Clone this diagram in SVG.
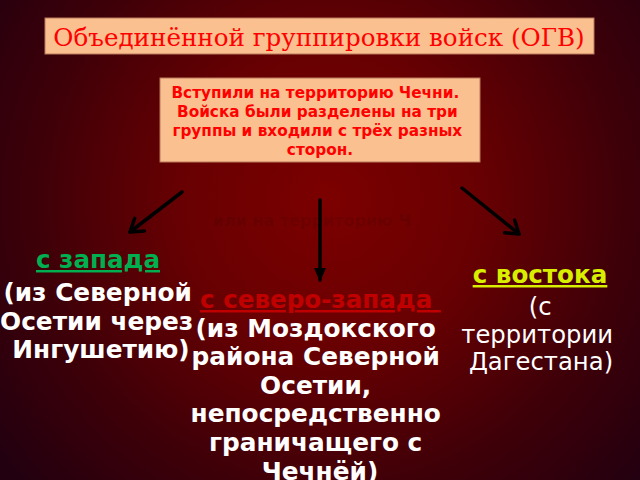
<svg xmlns="http://www.w3.org/2000/svg" width="640" height="480" viewBox="0 0 640 480">
<defs>
<radialGradient id="bg" cx="330" cy="200" r="420" gradientUnits="userSpaceOnUse">
<stop offset="0" stop-color="#7c0000"/>
<stop offset="0.35" stop-color="#680002"/>
<stop offset="0.7" stop-color="#3e0008"/>
<stop offset="1" stop-color="#220010"/>
</radialGradient>
<marker id="vee" markerWidth="10" markerHeight="10" refX="8" refY="5" orient="auto" markerUnits="userSpaceOnUse" viewBox="0 0 10 10" overflow="visible">
<path d="M-4,-3 L8,5 L-4,13" fill="none" stroke="#000" stroke-width="3.5" stroke-linecap="round" stroke-linejoin="round"/>
</marker>
<marker id="tri" markerWidth="14" markerHeight="14" refX="12" refY="6" orient="auto" markerUnits="userSpaceOnUse" viewBox="0 0 14 12">
<path d="M0,0 L14,6 L0,12 Z" fill="#000"/>
</marker>
<style>
.box{fill:#fac090;stroke:#b8785a;stroke-width:1}
.title{font-family:"DejaVu Serif","Liberation Serif",serif;font-size:24.6px;fill:#ff0000}
.bt{font-family:"DejaVu Sans","Liberation Sans",sans-serif;font-size:15.3px;font-weight:bold;fill:#ff0000}
.h{font-family:"DejaVu Sans","Liberation Sans",sans-serif;font-size:24.6px;font-weight:bold;text-decoration:underline}
.w{font-family:"DejaVu Sans","Liberation Sans",sans-serif;font-size:24.3px;fill:#ffffff}
.wb{font-weight:bold;font-size:24.8px}
.arr{stroke:#000;stroke-width:3.5;fill:none;stroke-linecap:round}
</style>
</defs>
<rect width="640" height="480" fill="url(#bg)"/>
<text x="312" y="226" text-anchor="middle" font-family="DejaVu Sans, sans-serif" font-size="16" font-weight="bold" fill="#000" fill-opacity="0.09">или на территорию Ч</text>
<g id="title">
<rect class="box" x="45" y="18" width="549" height="36"/>
<text class="title" x="319" y="46" text-anchor="middle">Объединённой группировки войск (ОГВ)</text>
</g>
<g id="intro">
<rect class="box" x="160" y="78" width="320" height="84"/>
<text class="bt" text-anchor="middle">
<tspan x="318" y="98">Вступили на территорию Чечни.</tspan>
<tspan x="320" y="117">Войска были разделены на три</tspan>
<tspan x="320" y="136">группы и входили с трёх разных</tspan>
<tspan x="320" y="155">сторон.</tspan>
</text>
</g>
<g id="connectors">
<line class="arr" x1="182" y1="192" x2="130" y2="232" marker-end="url(#vee)"/>
<line class="arr" x1="320" y1="200" x2="320" y2="280" marker-end="url(#tri)"/>
<line class="arr" x1="462" y1="188" x2="519" y2="234" marker-end="url(#vee)"/>
</g>
<g id="west">
<text class="h" x="98" y="268" text-anchor="middle" fill="#00b050">с запада</text>
<text class="w wb" text-anchor="middle">
<tspan x="102" y="301">(из Северной</tspan>
<tspan x="101" y="330">Осетии через</tspan>
<tspan x="101" y="358">Ингушетию)</tspan>
</text>
</g>
<g id="northwest">
<text class="h" x="200" y="308" fill="#c00000" xml:space="preserve">с северо-запада </text>
<text class="w wb" text-anchor="middle">
<tspan x="320" y="337">(из Моздокского</tspan>
<tspan x="320" y="365">района Северной</tspan>
<tspan x="320" y="394">Осетии,</tspan>
<tspan x="320" y="422">непосредственно</tspan>
<tspan x="320" y="451">граничащего с</tspan>
<tspan x="320" y="480">Чечнёй)</tspan>
</text>
</g>
<g id="east">
<text class="h" x="540" y="283" text-anchor="middle" fill="#d8f000">с востока</text>
<text class="w" text-anchor="middle">
<tspan x="544" y="315">(с</tspan>
<tspan x="541" y="343">территории</tspan>
<tspan x="541" y="370">Дагестана)</tspan>
</text>
</g>
</svg>
